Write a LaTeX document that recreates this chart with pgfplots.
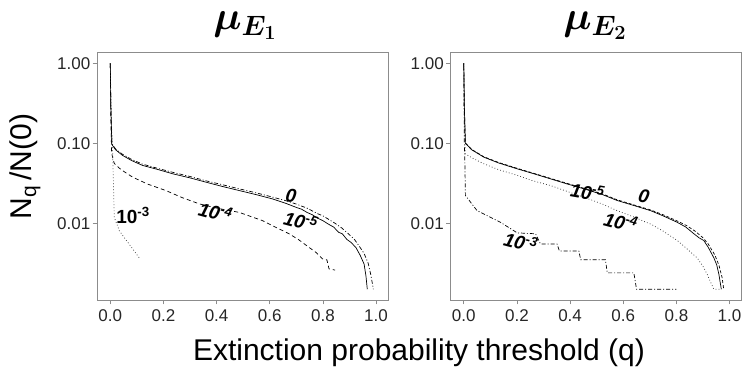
\RequirePackage{fix-cm}
\documentclass[border=0pt]{standalone}
\usepackage{pgfplots}
\pgfplotsset{compat=1.18}
\usepackage{fontspec}
\setmainfont{Liberation Sans}
\newcommand\lab[1]{\fontsize{19}{22}\selectfont\bfseries\itshape #1}
\newcommand\labu[1]{\fontsize{19}{22}\selectfont\bfseries #1}
\newsavebox\tA
\newsavebox\tB
\newsavebox\yl
\begin{document}
\sbox\tA{\fontsize{40}{44}\selectfont\boldmath$\mu_{E_1}$}%
\sbox\tB{\fontsize{40}{44}\selectfont\boldmath$\mu_{E_2}$}%
\sbox\yl{\fontsize{30}{34}\selectfont N\textsubscript{q}\,/N(0)}%
\begin{tikzpicture}
\useasboundingbox (0pt,0pt) rectangle (743pt,371pt);
% ---------------- Panel 1 ----------------
\begin{axis}[at={(97pt,71pt)},
  scale only axis, width=291pt, height=248pt, anchor=south west,
  ymode=log, xmin=-0.05, xmax=1.045, ymin=0.0011, ymax=1.387,
  xtick={0,0.2,0.4,0.6,0.8,1}, xticklabels={0.0,0.2,0.4,0.6,0.8,1.0},
  ytick={0.01,0.1,1}, yticklabels={0.01,0.10,1.00},
  yminorticks=false,
  tick align=outside, xtick pos=bottom, ytick pos=left,
  major tick length=4.5pt,
  axis line style={draw=black!45, line width=0.7pt},
  tick style={draw=black!45, line width=0.7pt},
  ticklabel style={font=\fontsize{17}{20}\selectfont, text=black!85, inner sep=2pt},
  xticklabel style={yshift=-2.5pt},
  title={\usebox\tA},
  title style={at={(axis description cs:0.5086,1.0685)}, anchor=base, inner sep=0pt},
  ylabel={\usebox\yl},
  ylabel style={at={(axis description cs:-0.247,0.538)}, anchor=center},
  xlabel={Extinction probability threshold (q)},
  xlabel style={at={(axis description cs:1.1065,-0.242)}, anchor=base, font=\fontsize{30}{34}\selectfont}]
\addplot[black, line width=0.7pt] coordinates {(0,1)(0.002,0.3)(0.006,0.097)(0.02,0.083)(0.046,0.0707)(0.08,0.061)(0.121,0.053)(0.18,0.047)(0.234,0.0417)(0.3,0.037)(0.36,0.0327)(0.42,0.029)(0.485,0.0257)(0.55,0.0228)(0.61,0.0202)(0.66,0.0178)(0.698,0.0159)(0.72,0.0150)(0.74,0.0137)(0.76,0.0128)(0.78,0.0116)(0.8,0.0108)(0.82,0.0098)(0.84,0.0090)(0.86,0.0077)(0.873,0.0074)(0.89,0.0063)(0.905,0.0058)(0.924,0.0050)(0.94,0.0040)(0.955,0.0031)(0.962,0.0022)(0.967,0.0015)};
\addplot[black, line width=0.7pt, dash pattern=on 1pt off 2pt on 4pt off 2pt] coordinates {(0,1)(0.002,0.3)(0.006,0.099)(0.02,0.085)(0.046,0.073)(0.08,0.063)(0.121,0.055)(0.18,0.0485)(0.234,0.0435)(0.3,0.0385)(0.36,0.034)(0.42,0.0305)(0.485,0.027)(0.55,0.024)(0.61,0.0213)(0.66,0.0192)(0.698,0.0175)(0.74,0.0155)(0.78,0.0132)(0.8,0.0124)(0.84,0.0103)(0.87,0.0088)(0.9,0.0072)(0.92,0.0062)(0.94,0.005)(0.955,0.0042)(0.97,0.0032)(0.98,0.0023)(0.99,0.0015)};
\addplot[black, line width=0.7pt, dash pattern=on 4pt off 3pt] coordinates {(0,1)(0.002,0.2)(0.005,0.075)(0.015,0.056)(0.04,0.047)(0.084,0.0378)(0.14,0.031)(0.209,0.0257)(0.27,0.021)(0.335,0.0175)(0.4,0.0155)(0.485,0.0137)(0.573,0.0108)(0.62,0.0090)(0.673,0.0074)(0.71,0.0062)(0.748,0.005)(0.775,0.0043)(0.798,0.0036)(0.815,0.0035)(0.823,0.0027)(0.846,0.0026)};
\addplot[black!80, line width=0.7pt, dash pattern=on 0.8pt off 2.2pt] coordinates {(0,1)(0.004,0.2)(0.009,0.074)(0.012,0.03)(0.015,0.0119)(0.034,0.0081)(0.05,0.0068)(0.071,0.0055)(0.09,0.0045)(0.109,0.0037)};
\node[rotate=-8] at (axis cs:0.680,0.0218) {\lab{0}};
\node[rotate=-15] at (axis cs:0.717,0.01075) {\lab{10\textsuperscript{-5}}};
\node[rotate=-15] at (axis cs:0.396,0.01396) {\lab{10\textsuperscript{-4}}};
\node at (axis cs:0.0854,0.01253) {\labu{10\textsuperscript{-3}}};
\end{axis}
% ---------------- Panel 2 ----------------
\begin{axis}[at={(450.5pt,71pt)},
  scale only axis, width=291pt, height=248pt, anchor=south west,
  ymode=log, xmin=-0.05, xmax=1.045, ymin=0.0011, ymax=1.387,
  xtick={0,0.2,0.4,0.6,0.8,1}, xticklabels={0.0,0.2,0.4,0.6,0.8,1.0},
  ytick={0.01,0.1,1}, yticklabels={0.01,0.10,1.00},
  yminorticks=false,
  tick align=outside, xtick pos=bottom, ytick pos=left,
  major tick length=4.5pt,
  axis line style={draw=black!45, line width=0.7pt},
  tick style={draw=black!45, line width=0.7pt},
  ticklabel style={font=\fontsize{17}{20}\selectfont, text=black!85, inner sep=2pt},
  xticklabel style={yshift=-2.5pt},
  title={\usebox\tB},
  title style={at={(axis description cs:0.4966,1.0685)}, anchor=base, inner sep=0pt}]
\addplot[black, line width=0.7pt] coordinates {(0,1)(0.002,0.3)(0.006,0.1)(0.03,0.083)(0.075,0.0673)(0.13,0.057)(0.201,0.048)(0.26,0.042)(0.326,0.036)(0.39,0.031)(0.452,0.027)(0.52,0.023)(0.577,0.0193)(0.64,0.0167)(0.703,0.0144)(0.75,0.0124)(0.803,0.0103)(0.835,0.0090)(0.866,0.0074)(0.885,0.0066)(0.903,0.0061)(0.92,0.0050)(0.941,0.0037)(0.952,0.0030)(0.96,0.0023)(0.965,0.0018)(0.969,0.0015)};
\addplot[black, line width=0.7pt, dash pattern=on 3pt off 2pt] coordinates {(0,1)(0.002,0.3)(0.006,0.101)(0.03,0.084)(0.075,0.068)(0.13,0.0578)(0.201,0.0487)(0.26,0.0425)(0.326,0.0365)(0.39,0.0315)(0.452,0.0274)(0.52,0.0234)(0.577,0.0197)(0.64,0.017)(0.703,0.0147)(0.75,0.0128)(0.803,0.0107)(0.84,0.0093)(0.87,0.0080)(0.9,0.0066)(0.92,0.0055)(0.945,0.0040)(0.96,0.0030)(0.972,0.0021)(0.978,0.0015)};
\addplot[black!80, line width=0.7pt, dash pattern=on 0.8pt off 2.2pt] coordinates {(0,1)(0.002,0.2)(0.006,0.074)(0.03,0.066)(0.075,0.0556)(0.13,0.047)(0.201,0.0398)(0.26,0.034)(0.326,0.0297)(0.39,0.025)(0.452,0.0212)(0.52,0.0175)(0.577,0.0144)(0.64,0.012)(0.68,0.0105)(0.703,0.0098)(0.75,0.0080)(0.803,0.0061)(0.84,0.0048)(0.878,0.0037)(0.9,0.0029)(0.916,0.0023)(0.93,0.0018)(0.941,0.0015)(0.97,0.0015)};
\addplot[black, line width=0.7pt, dash pattern=on 1pt off 2pt on 4pt off 2pt] coordinates {(0,1)(0.002,0.1)(0.004,0.06)(0.006,0.0223)(0.05,0.0144)(0.138,0.0103)(0.201,0.0076)(0.27,0.0074)(0.289,0.0055)(0.351,0.0055)(0.36,0.0045)(0.433,0.0045)(0.44,0.0035)(0.533,0.0035)(0.54,0.0024)(0.64,0.0024)(0.65,0.0015)(0.8,0.0015)};
\node[rotate=-10] at (axis cs:0.4655,0.02485) {\lab{10\textsuperscript{-5}}};
\node[rotate=-12] at (axis cs:0.678,0.0221) {\lab{0}};
\node[rotate=-15] at (axis cs:0.5908,0.01048) {\lab{10\textsuperscript{-4}}};
\node[rotate=-15] at (axis cs:0.2145,0.00589) {\lab{10\textsuperscript{-3}}};
\end{axis}
\end{tikzpicture}
\end{document}
